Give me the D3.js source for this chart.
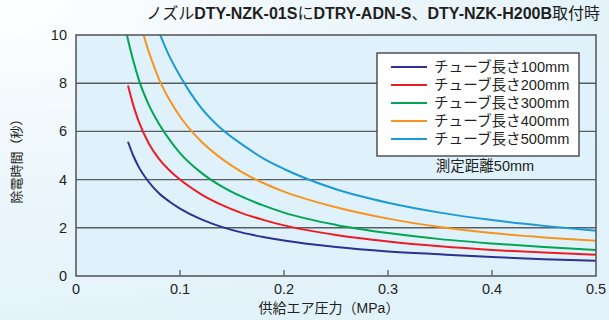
<!DOCTYPE html>
<html><head><meta charset="utf-8">
<script src="https://cdn.jsdelivr.net/npm/d3@7"></script>
<style>
html,body{margin:0;padding:0;background:#fff;}
svg{display:block;font-family:"Liberation Sans",Arial,"Noto Sans CJK JP",sans-serif;}
</style></head>
<body>
<svg id="chart" width="609" height="320"></svg>
<script>
// ---- data ----
const seriesNames = ["チューブ長さ100mm","チューブ長さ200mm","チューブ長さ300mm","チューブ長さ400mm","チューブ長さ500mm"];
const seriesColors = ["#2e3192","#ed1c24","#00a651","#f7941d","#1b9ad6"];
const tube100 = [[0.05,5.57],[0.055,5.0],[0.06,4.55],[0.07,3.9],[0.08,3.42],[0.09,3.08],[0.10,2.8],[0.12,2.36],[0.14,2.04],[0.16,1.8],[0.18,1.62],[0.20,1.47],[0.25,1.2],[0.30,1.02],[0.35,0.9],[0.40,0.79],[0.45,0.7],[0.50,0.63]];
const tube200 = [[0.05,7.9],[0.055,7.1],[0.06,6.45],[0.07,5.5],[0.08,4.85],[0.09,4.38],[0.10,4.0],[0.12,3.4],[0.14,2.95],[0.16,2.6],[0.18,2.33],[0.20,2.1],[0.25,1.7],[0.30,1.43],[0.35,1.23],[0.40,1.08],[0.45,0.97],[0.50,0.88]];
const tube300 = [[0.049,10],[0.05,9.8],[0.055,8.95],[0.06,8.2],[0.07,7.1],[0.08,6.3],[0.09,5.65],[0.10,5.1],[0.12,4.3],[0.14,3.72],[0.16,3.28],[0.18,2.93],[0.20,2.63],[0.25,2.12],[0.30,1.78],[0.35,1.53],[0.40,1.35],[0.45,1.2],[0.50,1.08]];
const tube400 = [[0.065,10],[0.07,9.3],[0.075,8.7],[0.08,8.15],[0.09,7.3],[0.10,6.62],[0.12,5.6],[0.14,4.87],[0.16,4.3],[0.18,3.86],[0.20,3.5],[0.25,2.85],[0.30,2.38],[0.35,2.03],[0.40,1.78],[0.45,1.6],[0.50,1.46]];
const tube500 = [[0.081,10],[0.085,9.58],[0.09,9.1],[0.10,8.3],[0.11,7.6],[0.12,7.0],[0.14,6.1],[0.16,5.45],[0.18,4.88],[0.20,4.44],[0.25,3.6],[0.30,3.04],[0.35,2.63],[0.40,2.32],[0.45,2.08],[0.50,1.88]];
const xTicks = [0,0.1,0.2,0.3,0.4,0.5];
const xTickLabels = ["0","0.1","0.2","0.3","0.4","0.5"];
const yTicks = [0,2,4,6,8,10];
const yTickLabels = ["0","2","4","6","8","10"];
const titleParts = [["ノズル",false],["DTY-NZK-01S",true],["に",false],["DTRY-ADN-S",true],["、",false],["DTY-NZK-H200B",true],["取付時",false]];
const xTitle = "供給エア圧力（MPa）";
const yTitle = "除電時間（秒）";
const noteText = "測定距離50mm";
const allSeries = [tube100,tube200,tube300,tube400,tube500];

// ---- layout ----
const W=609,H=320;
const m={left:76,right:596,top:35,bottom:276};
const svg=d3.select("#chart");
const defs=svg.append("defs");
const rg=defs.append("radialGradient").attr("id","bg").attr("cx","0").attr("cy","0").attr("r","1.1");
rg.append("stop").attr("offset","0").attr("stop-color","#ffffff");
rg.append("stop").attr("offset","0.45").attr("stop-color","#eef7fc");
rg.append("stop").attr("offset","1").attr("stop-color","#e2f2fa");
svg.append("rect").attr("width",W).attr("height",H).attr("fill","url(#bg)");

const x=d3.scaleLinear().domain([0,0.5]).range([m.left,m.right]);
const y=d3.scaleLinear().domain([0,10]).range([m.bottom,m.top]);

defs.append("clipPath").attr("id","clip").append("rect")
  .attr("x",m.left).attr("y",m.top).attr("width",m.right-m.left).attr("height",m.bottom-m.top);

svg.append("rect").attr("x",m.left).attr("y",m.top).attr("width",m.right-m.left).attr("height",m.bottom-m.top)
  .attr("fill","#dff1fa");

// gridlines
svg.append("g").selectAll("line").data(yTicks.filter(d=>d>0&&d<10)).join("line")
  .attr("x1",m.left).attr("x2",m.right).attr("y1",d=>y(d)).attr("y2",d=>y(d))
  .attr("stroke","#5a5c60").attr("stroke-width",1.4);

// x tick marks (inside)
svg.append("g").selectAll("line").data(xTicks.filter(d=>d>0&&d<0.5)).join("line")
  .attr("x1",d=>x(d)).attr("x2",d=>x(d)).attr("y1",m.bottom).attr("y2",m.bottom-6)
  .attr("stroke","#5a5c60").attr("stroke-width",1.3);

// legend box
const lg=svg.append("g");
lg.append("rect").attr("x",377).attr("y",53).attr("width",202).attr("height",103)
  .attr("fill","#ffffff").attr("stroke","#444649").attr("stroke-width",1.4);

// lines
const line=d3.line().x(d=>x(d[0])).y(d=>y(d[1])).curve(d3.curveMonotoneX);
svg.append("g").attr("clip-path","url(#clip)").selectAll("path").data(allSeries).join("path")
  .attr("d",line).attr("fill","none").attr("stroke",(d,i)=>seriesColors[i]).attr("stroke-width",2);

// frame
svg.append("rect").attr("x",m.left).attr("y",m.top).attr("width",m.right-m.left).attr("height",m.bottom-m.top)
  .attr("fill","none").attr("stroke","#5a5c60").attr("stroke-width",1.6);

// legend entries
const ent=lg.selectAll("g.e").data(seriesNames).join("g").attr("class","e")
  .attr("transform",(d,i)=>`translate(0,${67+i*18})`);
ent.append("line").attr("x1",391).attr("x2",427).attr("y1",0).attr("y2",0)
  .attr("stroke",(d,i)=>seriesColors[i]).attr("stroke-width",2);
ent.append("text").attr("x",434).attr("y",5).attr("font-size",14.6).attr("fill","#231f20").text(d=>d);

svg.append("text").attr("x",485).attr("y",171).attr("text-anchor","middle").attr("font-size",14.5)
  .attr("fill","#231f20").text(noteText);

// axes labels
svg.append("g").selectAll("text").data(xTicks).join("text")
  .attr("x",d=>x(d)).attr("y",m.bottom+18).attr("text-anchor","middle").attr("font-size",14.5)
  .attr("fill","#231f20").text((d,i)=>xTickLabels[i]);
svg.append("g").selectAll("text").data(yTicks).join("text")
  .attr("x",m.left-9).attr("y",d=>y(d)+5).attr("text-anchor","end").attr("font-size",14.5)
  .attr("fill","#231f20").text((d,i)=>yTickLabels[i]);

svg.append("text").attr("x",329).attr("y",313).attr("text-anchor","middle").attr("font-size",14)
  .attr("fill","#231f20").text(xTitle);
svg.append("text").attr("transform","translate(21,158) rotate(-90)").attr("text-anchor","middle")
  .attr("font-size",13).attr("fill","#231f20").text(yTitle);

// title
const t=svg.append("text").attr("x",600).attr("y",19).attr("text-anchor","end").attr("font-size",16).attr("fill","#231f20");
titleParts.forEach(p=>t.append("tspan").attr("font-weight",p[1]?"bold":"normal").text(p[0]));
</script>
</body></html>
